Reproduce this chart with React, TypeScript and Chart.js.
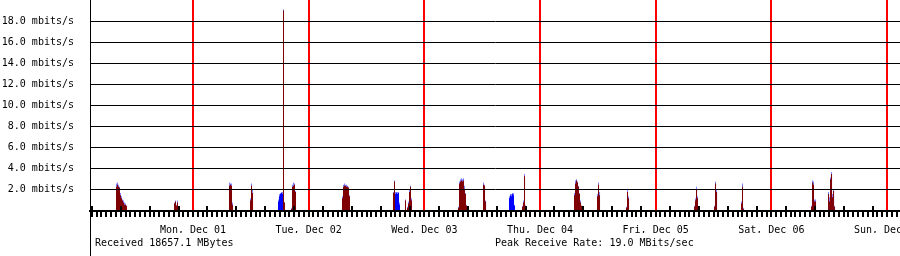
import React, { useEffect, useRef } from 'react';
import { Chart, registerables } from 'chart.js';

Chart.register(...registerables);

// ---- data (hours since Sun Nov 30 00:00, value in mbits/s) ----
const dayLabels = ['Mon, Dec 01', 'Tue, Dec 02', 'Wed, Dec 03', 'Thu, Dec 04', 'Fri, Dec 05', 'Sat, Dec 06', 'Sun, Dec 07'];
const yTickValues = [0, 2, 4, 6, 8, 10, 12, 14, 16, 18, 20];
const captions = ['Received 18657.1 MBytes', 'Peak Receive Rate: 19.0 MBits/sec'];
const captionHours = [3.665, 86.66];

// received: [hour, average]
const received: [number, number][] = [
  [8.13, 2.3], [8.33, 2.5], [8.54, 2.3], [8.75, 2.2], [8.96, 1.5], [9.17, 1.2], [9.37, 1.0], [9.58, 0.8], [9.79, 0.6], [9.99, 0.6], [10.2, 0.5],
  [20.16, 0.7], [20.37, 0.9], [20.58, 0.5], [20.78, 0.8], [20.99, 0.4],
  [31.57, 2.4], [31.78, 2.5], [31.99, 2.4], [32.2, 0.6],
  [35.93, 1.0], [36.14, 2.4], [36.35, 1.7],
  [42.78, 19.0], [42.99, 0.8],
  [44.44, 0.2], [44.65, 2.3], [44.85, 2.4], [45.06, 2.5], [45.27, 1.8],
  [55.02, 1.2], [55.23, 2.3], [55.44, 2.4], [55.64, 2.4], [55.85, 2.3], [56.06, 2.3], [56.27, 2.2], [56.47, 1.4],
  [65.6, 1.7], [65.81, 2.8],
  [68.09, 1.0], [68.51, 0.3], [68.72, 0.7], [68.92, 1.8], [69.13, 2.3], [69.34, 1.0],
  [79.09, 0.3], [79.3, 2.6], [79.51, 2.8], [79.71, 2.9], [79.92, 2.8], [80.13, 2.9], [80.34, 2.1], [80.54, 1.6], [80.75, 0.5],
  [84.28, 2.5], [84.49, 2.4], [84.7, 0.9],
  [92.37, 0.4], [92.58, 0.8], [92.79, 3.3], [92.99, 0.5],
  [103.16, 1.5], [103.37, 2.6], [103.58, 2.9], [103.78, 2.7], [103.99, 2.3], [104.2, 1.6], [104.41, 0.8], [104.61, 0.5],
  [107.93, 1.4], [108.14, 2.5], [108.35, 1.5],
  [113.95, 0.3], [114.16, 1.8], [114.37, 1.2],
  [128.06, 0.4], [128.27, 1.0], [128.48, 2.0], [128.68, 1.2],
  [132.21, 0.4], [132.42, 2.6], [132.63, 1.8],
  [137.81, 0.7], [138.02, 2.3], [138.23, 0.2],
  [152.34, 0.4], [152.55, 2.7], [152.75, 2.5], [152.96, 0.9], [153.17, 0.9],
  [155.87, 1.6], [156.08, 0.9], [156.28, 3.0], [156.49, 3.5], [156.7, 1.3], [156.91, 1.9], [157.11, 0.4],
];

// received: [hour, peak]
const receivedPeak: [number, number][] = [
  [8.13, 2.6], [8.33, 2.7], [8.54, 2.5], [8.75, 2.3], [8.96, 1.7], [9.17, 1.4], [9.37, 1.1], [9.58, 1.0], [9.79, 0.8], [9.99, 0.7], [10.2, 0.5],
  [20.16, 0.8], [20.37, 1.0], [20.58, 0.6], [20.78, 1.0], [20.99, 0.4],
  [31.57, 2.7], [31.78, 2.6], [31.99, 2.6], [32.2, 0.8],
  [35.93, 1.2], [36.14, 2.6], [36.35, 2.0],
  [42.78, 19.1], [42.99, 0.8],
  [44.44, 0.3], [44.65, 2.5], [44.85, 2.7], [45.06, 2.6], [45.27, 1.9],
  [55.02, 1.4], [55.23, 2.5], [55.44, 2.6], [55.64, 2.5], [55.85, 2.5], [56.06, 2.4], [56.27, 2.3], [56.47, 1.5],
  [65.6, 1.8], [65.81, 2.9],
  [68.09, 1.1], [68.51, 0.4], [68.72, 0.9], [68.92, 2.0], [69.13, 2.4], [69.34, 1.2],
  [79.09, 0.4], [79.3, 2.8], [79.51, 3.0], [79.71, 3.1], [79.92, 3.0], [80.13, 3.1], [80.34, 2.4], [80.54, 1.7], [80.75, 0.6],
  [84.28, 2.7], [84.49, 2.5], [84.7, 1.0],
  [92.37, 0.5], [92.58, 1.0], [92.79, 3.5], [92.99, 0.5],
  [103.16, 1.7], [103.37, 2.9], [103.58, 3.0], [103.78, 2.8], [103.99, 2.4], [104.2, 1.7], [104.41, 1.0], [104.61, 0.5],
  [107.93, 1.6], [108.14, 2.7], [108.35, 1.8],
  [113.95, 0.4], [114.16, 2.1], [114.37, 1.4],
  [128.06, 0.5], [128.27, 1.2], [128.48, 2.3], [128.68, 1.4],
  [132.21, 0.5], [132.42, 2.8], [132.63, 2.0],
  [137.81, 0.9], [138.02, 2.6], [138.23, 0.3],
  [152.34, 0.5], [152.55, 2.9], [152.75, 2.8], [152.96, 1.1], [153.17, 1.1],
  [155.87, 1.8], [156.08, 1.3], [156.28, 3.2], [156.49, 3.7], [156.7, 1.6], [156.91, 2.0], [157.11, 0.5],
];

// sent: [hour, average]
const sent: [number, number][] = [
  [41.74, 0.9], [41.95, 1.4], [42.16, 1.6], [42.36, 1.7], [42.57, 1.6], [42.78, 1.2],
  [66.02, 1.6], [66.23, 1.7], [66.43, 1.6], [66.64, 1.7], [66.85, 0.6],
  [89.67, 1.2], [89.88, 1.5], [90.09, 1.4], [90.3, 1.6], [90.5, 1.5], [90.71, 0.5],
];

// sent: [hour, peak]
const sentPeak: [number, number][] = [
  [41.74, 1.1], [41.95, 1.6], [42.16, 1.7], [42.36, 1.8], [42.57, 1.8], [42.78, 1.3],
  [66.02, 1.8], [66.23, 1.8], [66.43, 1.8], [66.64, 1.8], [66.85, 0.8],
  [89.67, 1.4], [89.88, 1.6], [90.09, 1.6], [90.3, 1.7], [90.5, 1.7], [90.71, 0.6],
];

const X_MIN = 2.628;
const X_MAX = 170.697;
const FONT = { family: "'DejaVu Sans Mono', monospace", size: 10 };
const CLEAR = 'rgba(0,0,0,0)';

const hourTicks = Array.from({ length: 168 }, (_, i) => i + 3);
const sixHourTicks = Array.from({ length: 28 }, (_, i) => (i + 1) * 6);

const toPoints = (arr: [number, number][]) => arr.map(([x, y]) => ({ x, y }));

export default function App() {
  const ref = useRef<HTMLCanvasElement>(null);

  useEffect(() => {
    const canvas = ref.current;
    if (!canvas) return;

    const barDs = (label: string, pts: [number, number][], color: string) => ({
      type: 'bar' as const,
      label,
      data: toPoints(pts),
      backgroundColor: color,
      borderWidth: 0,
      inflateAmount: 0,
      barThickness: 1,
      grouped: false,
      xAxisID: 'x',
      yAxisID: 'y',
    });

    const axisExtension = {
      id: 'axisExtension',
      afterDraw(chart: any) {
        const { ctx, chartArea } = chart;
        ctx.save();
        ctx.strokeStyle = '#000';
        ctx.lineWidth = 1;
        ctx.beginPath();
        ctx.moveTo(90.5, chartArea.bottom);
        ctx.lineTo(90.5, chart.height);
        ctx.stroke();
        ctx.restore();
      },
    };

    const chart = new Chart(canvas, {
      type: 'bar',
      data: {
        datasets: [
          barDs('Received', received, '#800000'),
          barDs('Sent', sent, '#0000ff'),
          barDs('Received peak', receivedPeak, '#8080ff'),
          barDs('Sent peak', sentPeak, '#8080ff'),
        ] as any,
      },
      options: {
        animation: false,
        responsive: false,
        maintainAspectRatio: false,
        events: [],
        layout: { padding: 0 },
        plugins: {
          legend: { display: false },
          tooltip: { enabled: false },
        },
        scales: {
          x: {
            type: 'linear',
            position: 'bottom',
            min: X_MIN,
            max: X_MAX,
            offset: false,
            afterBuildTicks: (s: any) => {
              s.ticks = hourTicks.map((v) => ({ value: v }));
            },
            afterFit: (s: any) => {
              s.height = 22;
              s.paddingLeft = 0;
              s.paddingRight = 0;
            },
            grid: {
              z: 1,
              offset: false,
              drawOnChartArea: true,
              drawTicks: true,
              tickLength: 6,
              lineWidth: 2,
              color: (c: any) => (c.tick && c.tick.value % 24 === 0 ? '#ff0000' : CLEAR),
              tickColor: '#000',
              tickWidth: 2,
            },
            border: { display: true, color: '#000', width: 2, z: 1 },
            ticks: {
              autoSkip: false,
              maxRotation: 0,
              minRotation: 0,
              padding: 7,
              font: FONT,
              color: '#000',
              callback: (v: any) => (v % 24 === 0 ? dayLabels[v / 24 - 1] : ''),
            },
          },
          x6h: {
            type: 'linear',
            position: { y: 0.474 },
            axis: 'x',
            min: X_MIN,
            max: X_MAX,
            offset: false,
            afterBuildTicks: (s: any) => {
              s.ticks = sixHourTicks.map((v) => ({ value: v }));
            },
            afterFit: (s: any) => {
              s.paddingLeft = 0;
              s.paddingRight = 0;
              s.paddingTop = 0;
              s.paddingBottom = 0;
            },
            grid: {
              z: 2,
              drawOnChartArea: false,
              drawTicks: true,
              tickLength: 5,
              lineWidth: 2,
              tickColor: '#000',
              tickWidth: 2,
            },
            border: { display: false },
            ticks: { display: false },
          },
          x2: {
            type: 'linear',
            position: 'bottom',
            weight: 1,
            min: X_MIN,
            max: X_MAX,
            offset: false,
            afterBuildTicks: (s: any) => {
              s.ticks = captionHours.map((v) => ({ value: v }));
            },
            afterFit: (s: any) => {
              s.height = 23;
              s.paddingLeft = 0;
              s.paddingRight = 0;
            },
            grid: { display: false, drawTicks: false },
            border: { display: false },
            ticks: {
              autoSkip: false,
              maxRotation: 0,
              minRotation: 0,
              align: 'start',
              padding: 4,
              font: FONT,
              color: '#000',
              callback: (_v: any, i: number) => captions[i],
            },
          },
          y: {
            type: 'linear',
            position: 'left',
            min: 0,
            max: 20,
            afterBuildTicks: (s: any) => {
              s.ticks = yTickValues.map((v) => ({ value: v }));
            },
            afterFit: (s: any) => {
              s.width = 90;
              s.paddingTop = 0;
              s.paddingBottom = 0;
            },
            grid: {
              z: 1,
              drawTicks: false,
              lineWidth: 1,
              color: (c: any) => (c.tick && (c.tick.value === 0 || c.tick.value === 20) ? CLEAR : '#000'),
            },
            border: { display: true, color: '#000', width: 1, z: 1 },
            ticks: {
              padding: 16,
              font: FONT,
              color: '#000',
              callback: (v: any) => (v === 0 || v === 20 ? '' : Number(v).toFixed(1) + ' mbits/s'),
            },
          },
        } as any,
      },
      plugins: [axisExtension],
    });

    return () => chart.destroy();
  }, []);

  return (
    <div style={{ position: 'fixed', left: 0, top: 0, width: 900, height: 256, background: '#fff' }}>
      <canvas ref={ref} width={900} height={256} style={{ display: 'block' }} />
    </div>
  );
}
